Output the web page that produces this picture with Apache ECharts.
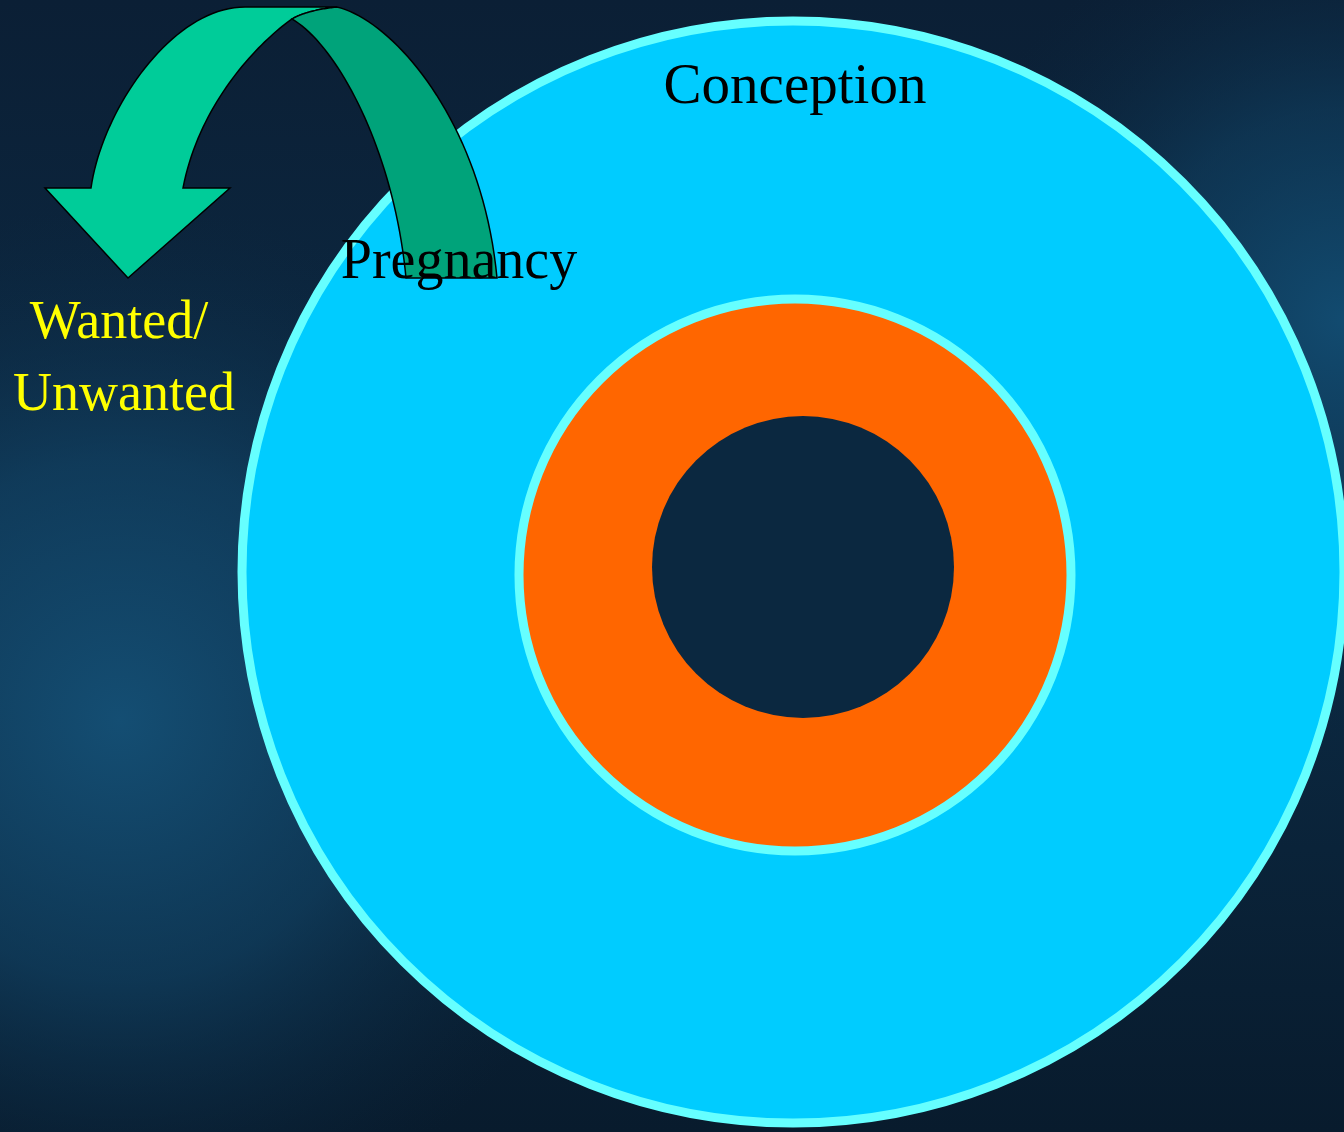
<!DOCTYPE html>
<html>
<head>
<meta charset="utf-8">
<style>
html,body{margin:0;padding:0;background:#0B2238;}
#chart{width:1344px;height:1132px;}
</style>
<script src="https://cdn.jsdelivr.net/npm/echarts@6/dist/echarts.min.js"></script>
</head>
<body>
<div id="chart"></div>
<script>
// ---- data ----
const ringNames = ['Conception', 'Pregnancy', 'Core'];
const ringValues = [1, 1, 1];
const ringColors = ['#00CCFF', '#FF6600', '#0B2840'];
const labelTexts = ['Conception', 'Pregnancy', 'Wanted/', 'Unwanted'];

const chart = echarts.init(document.getElementById('chart'), null, {renderer: 'canvas'});

const FONT = '"Liberation Serif", "DejaVu Serif", serif';

// turn a simple M/L/C path string into polygon points
function pathToPoints(d) {
  const tok = d.trim().split(/[\s,]+/);
  const pts = [];
  let i = 0, cur = [0, 0];
  while (i < tok.length) {
    const c = tok[i++];
    if (c === 'M' || c === 'L') {
      cur = [+tok[i], +tok[i + 1]]; i += 2; pts.push(cur);
    } else if (c === 'C') {
      const p1 = [+tok[i], +tok[i + 1]], p2 = [+tok[i + 2], +tok[i + 3]], p3 = [+tok[i + 4], +tok[i + 5]];
      i += 6;
      const p0 = cur;
      for (let k = 1; k <= 40; k++) {
        const t = k / 40, u = 1 - t;
        pts.push([
          u*u*u*p0[0] + 3*u*u*t*p1[0] + 3*u*t*t*p2[0] + t*t*t*p3[0],
          u*u*u*p0[1] + 3*u*u*t*p1[1] + 3*u*t*t*p2[1] + t*t*t*p3[1]
        ]);
      }
      cur = p3;
    }
  }
  return pts;
}

const arrowFront = 'M 45 188 L 91 188 C 102 110 172 7 245 7 L 337 7 C 318 9 302 13 292 19 C 262 40 200 100 183 188 L 230 188 L 128 278 Z';
const arrowBack = 'M 292 19 C 302 13 318 9 337 7 C 392 20 482 120 497 278 L 406 278 C 394 150 337 45 292 19 Z';

const option = {
  animation: false,
  backgroundColor: '#0B2238',
  graphic: [
    {type: 'rect', z: -10, silent: true, shape: {x: 0, y: 0, width: 1344, height: 1132},
     style: {fill: {type: 'linear', x: 0, y: 0, x2: 0, y2: 1, colorStops: [
       {offset: 0, color: '#0B1F35'}, {offset: 0.5, color: '#0C2B45'}, {offset: 1, color: '#081B2D'}]}}},
    {type: 'circle', z: -9, silent: true, shape: {cx: 120, cy: 720, r: 520},
     style: {fill: {type: 'radial', x: 0.5, y: 0.5, r: 0.5, colorStops: [
       {offset: 0, color: 'rgba(20,78,115,1)'}, {offset: 0.5, color: 'rgba(18,70,105,0.6)'}, {offset: 1, color: 'rgba(12,40,64,0)'}]}}},
    {type: 'circle', z: -9, silent: true, shape: {cx: 1344, cy: 320, r: 420},
     style: {fill: {type: 'radial', x: 0.5, y: 0.5, r: 0.5, colorStops: [
       {offset: 0, color: 'rgba(18,75,112,1)'}, {offset: 0.5, color: 'rgba(16,66,100,0.55)'}, {offset: 1, color: 'rgba(12,40,64,0)'}]}}},
    {type: 'polygon', z: 20, silent: true, shape: {points: pathToPoints(arrowFront)},
     style: {fill: '#00CC99', stroke: '#000000', lineWidth: 1.5}},
    {type: 'polygon', z: 20, silent: true, shape: {points: pathToPoints(arrowBack)},
     style: {fill: '#00A37A', stroke: '#000000', lineWidth: 1.5}},
    {type: 'text', z: 30, silent: true, style: {text: labelTexts[0], x: 795, y: 88, align: 'center', verticalAlign: 'middle',
      font: '57px ' + FONT, fill: '#000000'}},
    {type: 'text', z: 30, silent: true, style: {text: labelTexts[1], x: 459, y: 263, align: 'center', verticalAlign: 'middle',
      font: '56px ' + FONT, fill: '#000000'}},
    {type: 'text', z: 30, silent: true, style: {text: labelTexts[2], x: 119, y: 324, align: 'center', verticalAlign: 'middle',
      font: '54px ' + FONT, fill: '#FFFF00'}},
    {type: 'text', z: 30, silent: true, style: {text: labelTexts[3], x: 124, y: 396, align: 'center', verticalAlign: 'middle',
      font: '54px ' + FONT, fill: '#FFFF00'}}
  ],
  series: [
    {type: 'pie', name: ringNames[0], silent: true, z: 2, center: [793, 572], radius: [0, 551],
     label: {show: false}, labelLine: {show: false},
     itemStyle: {color: ringColors[0], borderColor: '#66FFFF', borderWidth: 9},
     data: [{name: ringNames[0], value: ringValues[0]}]},
    {type: 'pie', name: ringNames[1], silent: true, z: 3, center: [795, 575], radius: [0, 276],
     label: {show: false}, labelLine: {show: false},
     itemStyle: {color: ringColors[1], borderColor: '#66FFFF', borderWidth: 9},
     data: [{name: ringNames[1], value: ringValues[1]}]},
    {type: 'pie', name: ringNames[2], silent: true, z: 4, center: [803, 567], radius: [0, 151],
     label: {show: false}, labelLine: {show: false},
     itemStyle: {color: ringColors[2], borderWidth: 0},
     data: [{name: ringNames[2], value: ringValues[2]}]}
  ]
};
chart.setOption(option);
</script>
</body>
</html>
